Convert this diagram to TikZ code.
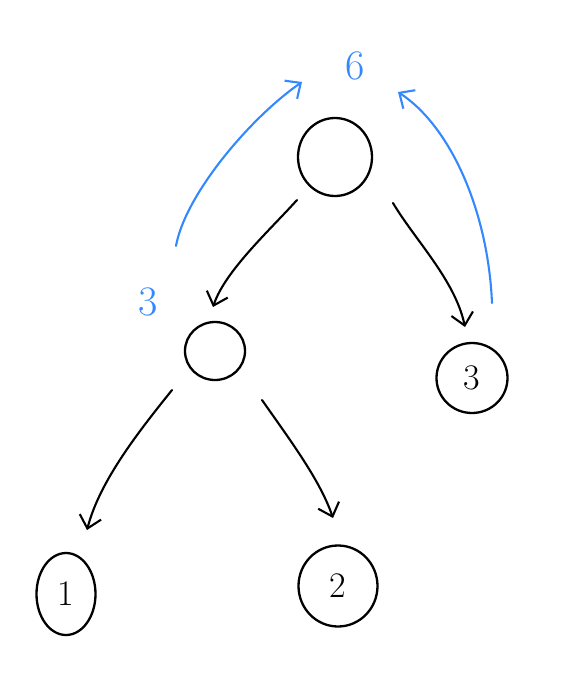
\documentclass[tikz,border=0pt]{standalone}
\usepackage{fontspec}
\usetikzlibrary{shapes.geometric,arrows.meta,calc}
\definecolor{handblue}{RGB}{51,136,255}
\begin{document}
\begin{tikzpicture}[x=1pt,y=-1pt,
  nd/.style={ellipse,draw=black,line width=2.3pt,inner sep=0pt,font=\fontsize{36}{36}\selectfont},
  arr/.style={line width=2.1pt,line cap=round,-{Straight Barb[length=12pt,width=22pt,line width=2.1pt]}},
  barr/.style={arr,draw=handblue},
  lab/.style={text=handblue,font=\fontsize{42}{42}\selectfont}]
\useasboundingbox (0,0) rectangle (572,694);
\node[nd,minimum width=74pt,minimum height=78pt] (root) at (335,157) {};
\node[nd,minimum width=60pt,minimum height=58pt] (l) at (215,351) {};
\node[nd,minimum width=71pt,minimum height=70pt] (r) at (472,378) {3};
\node[nd,minimum width=59pt,minimum height=82pt] (l1) at (66,594) {1};
\node[nd,minimum width=79pt,minimum height=81pt] (l2) at (338,586) {2};
\node[lab] (six) at (355,66) {6};
\node[lab] (three) at (148,302) {3};
\draw[arr] ($(root)+(-38,43)$) .. controls ($(root)+(-65,73)$) and ($(l)+(10,-80)$) .. ($(l)+(-2,-44)$);
\draw[arr] ($(root)+(58,46)$) .. controls ($(root)+(80,83)$) and ($(r)+(-17,-98)$) .. ($(r)+(-7,-51)$);
\draw[arr] ($(l)+(-43,39)$) .. controls ($(l)+(-75,79)$) and ($(l1)+(34,-114)$) .. ($(l1)+(21,-64)$);
\draw[arr] ($(l)+(47,49)$) .. controls ($(l)+(75,89)$) and ($(l2)+(-18,-106)$) .. ($(l2)+(-5,-68)$);
\draw[barr] ($(three)+(28,-56)$) .. controls ($(three)+(37,-107)$) and ($(six)+(-105,52)$) .. ($(six)+(-53,16)$);
\draw[barr] ($(r)+(20,-75)$) .. controls ($(r)+(16,-168)$) and ($(six)+(95,60)$) .. ($(six)+(43,26)$);
\end{tikzpicture}
\end{document}
